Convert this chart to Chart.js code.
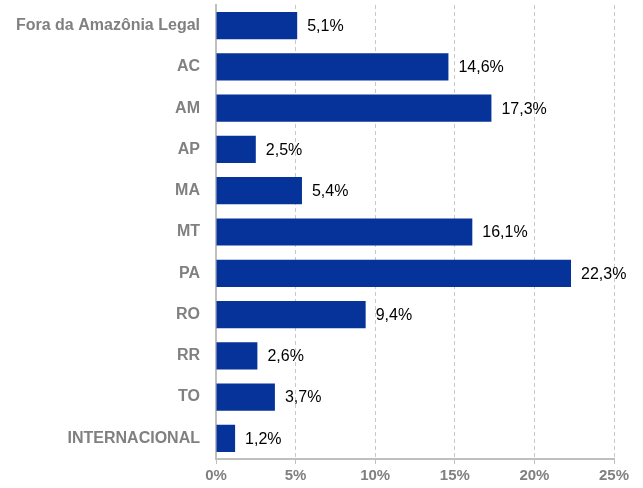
<!DOCTYPE html>
<html>
<head>
<meta charset="utf-8">
<script src="https://cdn.jsdelivr.net/npm/chart.js@4/dist/chart.umd.min.js"></script>
<style>
    html, body { margin: 0; padding: 0; background: #fff; }
    #wrap { width: 643px; height: 488px; }
</style>
</head>
<body>
<div id="wrap"><canvas id="chart"></canvas></div>
<script>
// Chart data
const categories = ['Fora da Amazônia Legal', 'AC', 'AM', 'AP', 'MA', 'MT', 'PA', 'RO', 'RR', 'TO', 'INTERNACIONAL'];
const shares = [5.1, 14.6, 17.3, 2.5, 5.4, 16.1, 22.3, 9.4, 2.6, 3.7, 1.2];
const xTicks = [0, 5, 10, 15, 20, 25];

// Draw value labels at the end of each bar
const valueLabels = {
    id: 'valueLabels',
    afterDatasetsDraw(chart) {
        const ctx = chart.ctx;
        const meta = chart.getDatasetMeta(0);
        ctx.save();
        ctx.font = '16px "Liberation Sans", Arial, sans-serif';
        ctx.fillStyle = '#000';
        ctx.textAlign = 'left';
        ctx.textBaseline = 'middle';
        meta.data.forEach((bar, i) => {
            const txt = shares[i].toFixed(1).replace('.', ',') + '%';
            ctx.fillText(txt, bar.x + 10, bar.y + 1);
        });
        ctx.restore();
    }
};

new Chart(document.getElementById('chart'), {
    type: 'bar',
    data: {
        labels: categories,
        datasets: [{
            data: shares,
            backgroundColor: '#063399',
            borderWidth: 0,
            categoryPercentage: 1,
            barPercentage: 0.66
        }]
    },
    options: {
        indexAxis: 'y',
        responsive: true,
        maintainAspectRatio: false,
        animation: false,
        layout: { padding: { top: 5, right: 29, left: 0, bottom: 0 } },
        plugins: {
            legend: { display: false },
            tooltip: { enabled: false }
        },
        scales: {
            x: {
                min: 0,
                max: 25,
                afterBuildTicks: (scale) => { scale.ticks = xTicks.map(v => ({ value: v })); },
                afterFit: (scale) => { scale.paddingLeft = 0; scale.paddingRight = 0; },
                grid: {
                    color: '#c8c8c8',
                    tickBorderDash: [],
                    tickColor: '#bfbfbf',
                    tickLength: 5,
                    drawTicks: true
                },
                border: { display: true, color: '#bfbfbf', width: 2, dash: [4, 3] },
                ticks: {
                    color: '#808080',
                    font: { family: '"Liberation Sans", Arial, sans-serif', size: 15, weight: 'bold' },
                    padding: 3,
                    callback: (v) => v + '%'
                }
            },
            y: {
                grid: { display: false, drawTicks: false },
                border: { display: true, color: '#bfbfbf', width: 2 },
                afterFit: (scale) => { scale.width = 216; scale.paddingTop = 0; scale.paddingBottom = 0; },
                ticks: {
                    color: '#808080',
                    font: { family: '"Liberation Sans", Arial, sans-serif', size: 16, weight: 'bold' },
                    padding: 16
                }
            }
        }
    },
    plugins: [valueLabels]
});
</script>
</body>
</html>
